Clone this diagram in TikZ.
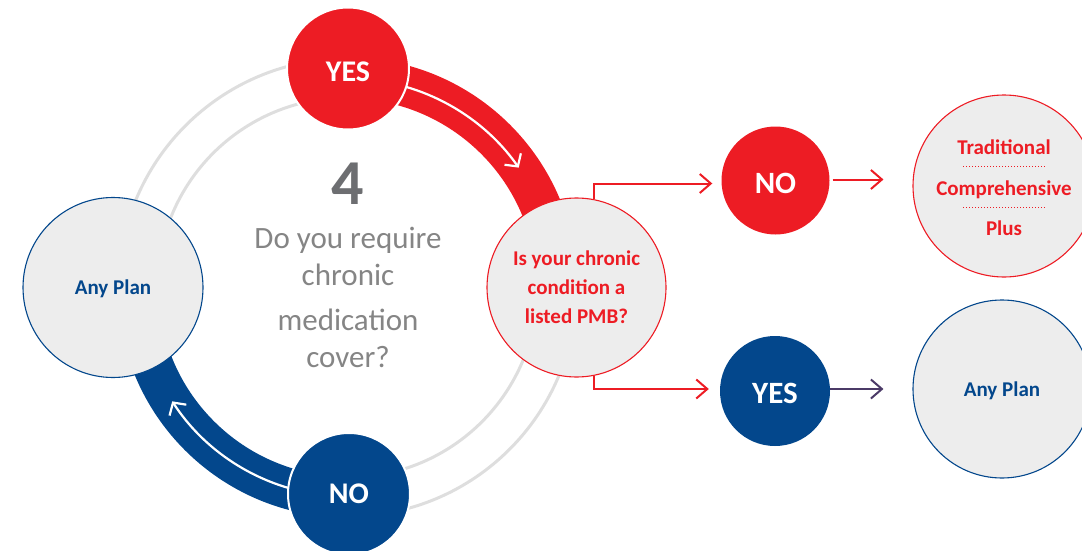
\documentclass[tikz,border=0pt]{standalone}
\usepackage{fontspec}
\setmainfont{Carlito}
\usetikzlibrary{arrows.meta}
\definecolor{cred}{HTML}{ED1C24}
\definecolor{cblue}{HTML}{03478C}
\definecolor{cfill}{HTML}{EDEDED}
\definecolor{cring}{HTML}{DEDEDE}
\definecolor{cnum}{HTML}{6D6E71}
\definecolor{cq}{HTML}{858585}
\definecolor{cpurple}{HTML}{4B3A67}
\newcommand{\lowertext}[2]{\raisebox{-#1}[\height][\depth]{#2}}
\begin{document}
\begin{tikzpicture}[x=1pt,y=1pt,
  bigdot/.style={circle, draw=white, line width=2pt, text=white, inner sep=0pt,
    minimum size=122pt, font=\bfseries\fontsize{30}{36}\selectfont},
  smalldot/.style={circle, inner sep=0pt, text=white, minimum size=108pt,
    font=\bfseries\fontsize{31}{36}\selectfont},
  plancircle/.style={circle, fill=cfill, line width=1.1pt, inner sep=0pt,
    font=\bfseries\fontsize{21}{29}\selectfont, align=center},
  ringline/.style={cring, line width=3pt},
  band/.style={line width=41pt},
  bandarrow/.style={white, line width=2.2pt, -{Straight Barb[length=9pt,width=20pt]}},
  flow/.style={line width=2pt, -{Straight Barb[length=11pt,width=19pt]}},
  qtext/.style={anchor=base, text=cq, font=\fontsize{31}{36}\selectfont},
  plantext/.style={anchor=base, text=cred, font=\bfseries\fontsize{21}{29}\selectfont}
]
\useasboundingbox (0,0) rectangle (1082,-551);
\coordinate (C) at (347.5,-287.5);
% grey ring
\draw[ringline] ([shift={(C)}]90:229) arc[start angle=90,end angle=180,radius=229];
\draw[ringline] ([shift={(C)}]90:190) arc[start angle=90,end angle=180,radius=190];
\draw[ringline] ([shift={(C)}]270:229) arc[start angle=270,end angle=360,radius=229];
\draw[ringline] ([shift={(C)}]270:190) arc[start angle=270,end angle=360,radius=190];
% coloured bands
\draw[band, cred] ([shift={(C)}]0:209.5) arc[start angle=0,end angle=90,radius=209.5];
\draw[band, cblue] ([shift={(C)}]180:209.5) arc[start angle=180,end angle=270,radius=209.5];
\draw[bandarrow] ([shift={(C)}]78:209) arc[start angle=78,end angle=35,radius=209];
\draw[bandarrow] ([shift={(C)}]258:209) arc[start angle=258,end angle=213,radius=209];
% ring circles
\node[bigdot, fill=cred] (yes1) at (348,-68.5) {\lowertext{3pt}{YES}};
\node[bigdot, fill=cblue] (no1) at (349,-494) {NO};
\node[plancircle, draw=cred, text=cred, minimum size=179pt] (pmb) at (576.5,-287.5)
  {Is your chronic\\condition a\\listed PMB?};
\node[plancircle, draw=cblue, text=cblue, minimum size=180pt, text depth=0pt] (any1) at (113,-287.5) {Any Plan};
% centre text
\node[anchor=base, text=cnum, font=\bfseries\fontsize{64}{70}\selectfont] (num) at (348,-204) {4};
\node[qtext] (q1) at (348,-248) {Do you require};
\node[qtext] (q2) at (348,-285) {chronic};
\node[qtext] (q3) at (348,-330) {medication};
\node[qtext] (q4) at (348,-367) {cover?};
% right branch
\node[smalldot, fill=cred] (no2) at (775.5,-180.5) {\lowertext{2.5pt}{NO}};
\node[smalldot, fill=cblue, minimum size=110pt] (yes2) at (775,-391) {\lowertext{2pt}{YES}};
\node[plancircle, draw=cred, minimum size=182pt] (trad) at (1004,-186) {};
\node[plantext] (t1) at (1004,-154.5) {Traditional};
\node[plantext] (t2) at (1004,-195.5) {Comprehensive};
\node[plantext] (t3) at (1004,-235) {Plus};
\draw[cred, dotted, line width=1pt] (963,-166) -- (1046,-166);
\draw[cred, dotted, line width=1pt] (963,-207) -- (1046,-207);
\node[plancircle, draw=cblue, text=cblue, minimum size=178pt, text depth=0pt] (any2) at (1002,-389) {Any Plan};
% connectors
\draw[flow, cred, shorten >=9pt] (pmb.79) |- ([yshift=-3pt]no2.west);
\draw[flow, cred, shorten >=11pt] (pmb.-79) |- ([yshift=2pt]yes2.west);
\draw[flow, cred, shorten <=3pt, shorten >=29pt] ([yshift=1pt]no2.east) -- ([yshift=1pt]no2.east -| trad.west);
\draw[flow, cpurple, shorten >=29pt] ([yshift=2pt]yes2.east) -- ([yshift=2pt]yes2.east -| any2.west);
\end{tikzpicture}
\end{document}
